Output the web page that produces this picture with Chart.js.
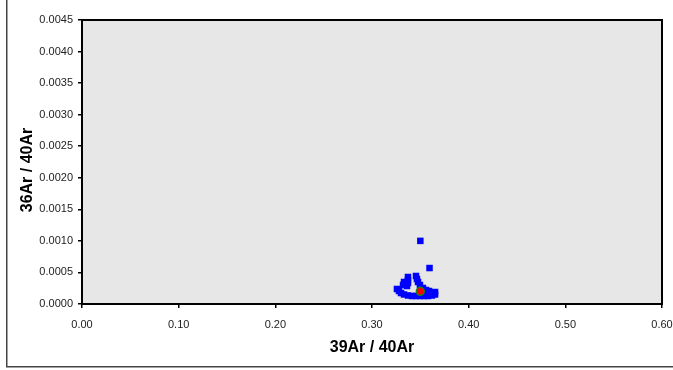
<!DOCTYPE html>
<html>
<head>
<meta charset="utf-8">
<script src="https://cdn.jsdelivr.net/npm/chart.js@4/dist/chart.umd.min.js"></script>
<style>
  html, body { margin: 0; padding: 0; background: #fff; }
  canvas { display: block; }
</style>
</head>
<body>
<canvas id="isoChart" width="673" height="370"></canvas>
<script>
// measured step ratios (39Ar/40Ar, 36Ar/40Ar)
const ratio39 = [
  0.3500, 0.3595,
  0.3258, 0.3279, 0.3300, 0.3331, 0.3372, 0.3414, 0.3455, 0.3496,
  0.3538, 0.3579, 0.3621, 0.3652, 0.3652,
  0.3372, 0.3372, 0.3372, 0.3362, 0.3331, 0.3321,
  0.3455, 0.3465, 0.3476, 0.3496, 0.3527, 0.3559, 0.3590
];
const ratio36 = [
  0.00100, 0.00057,
  0.000238, 0.000206, 0.000174, 0.000151, 0.000135, 0.000127, 0.000127, 0.000127,
  0.000127, 0.000127, 0.000135, 0.000151, 0.000190,
  0.000428, 0.000380, 0.000333, 0.000285, 0.000349, 0.000301,
  0.000444, 0.000396, 0.000349, 0.000301, 0.000254, 0.000222, 0.000206
];
// weighted mean
const mean39 = [0.3500];
const mean36 = [0.000201];

const xTicks = [0, 0.1, 0.2, 0.3, 0.4, 0.5, 0.6];
const yTicks = [0, 0.0005, 0.001, 0.0015, 0.002, 0.0025, 0.003, 0.0035, 0.004, 0.0045];

const FONT = "'Liberation Sans', Arial, sans-serif";

const toPoints = (xs, ys) => xs.map((x, i) => ({ x: x, y: ys[i] }));

// gray plot area, frame, outer border and the vertical axis title
const plotFrame = {
  id: "plotFrame",
  beforeDraw(chart) {
    const { ctx, chartArea: a } = chart;
    ctx.save();
    ctx.fillStyle = "#fff";
    ctx.fillRect(0, 0, chart.width, chart.height);
    ctx.fillStyle = "#e7e7e7";
    ctx.fillRect(a.left, a.top, a.right - a.left, a.bottom - a.top);
    ctx.restore();
  },
  afterDraw(chart) {
    const { ctx, chartArea: a } = chart;
    ctx.save();
    ctx.strokeStyle = "#000";
    ctx.lineWidth = 2;
    ctx.strokeRect(a.left, a.top, a.right - a.left, a.bottom - a.top);

    ctx.strokeStyle = "#444";
    ctx.lineWidth = 1.5;
    ctx.beginPath();
    ctx.moveTo(6.75, 0);
    ctx.lineTo(6.75, 366.75);
    ctx.lineTo(chart.width, 366.75);
    ctx.stroke();

    ctx.translate(28, 170);
    ctx.rotate(-Math.PI / 2);
    ctx.fillStyle = "#000";
    ctx.font = "bold 16px " + FONT;
    ctx.textAlign = "center";
    ctx.textBaseline = "middle";
    ctx.fillText("36Ar / 40Ar", 0, 0);
    ctx.restore();
  }
};

const tickFont = { family: FONT, size: 11 };

new Chart(document.getElementById("isoChart"), {
  type: "scatter",
  data: {
    datasets: [
      {
        label: "mean",
        data: toPoints(mean39, mean36),
        pointStyle: "circle",
        pointRadius: 4,
        backgroundColor: "#ff0000",
        borderColor: "#1e7b1e",
        borderWidth: 1.5
      },
      {
        label: "steps",
        data: toPoints(ratio39, ratio36),
        pointStyle: "rect",
        pointRadius: 4.6,
        backgroundColor: "#0000ff",
        borderColor: "#0000ff",
        borderWidth: 0
      }
    ]
  },
  options: {
    responsive: false,
    animation: false,
    layout: { padding: { top: 20, right: 11, left: 0, bottom: 0 } },
    plugins: {
      legend: { display: false },
      tooltip: { enabled: false }
    },
    scales: {
      x: {
        type: "linear",
        min: xTicks[0],
        max: xTicks[xTicks.length - 1],
        afterBuildTicks: s => { s.ticks = xTicks.map(v => ({ value: v })); },
        afterFit: s => {
          s.height = 66;
          // let the end labels hang past the plot edges
          s.paddingLeft = 0;
          s.paddingRight = 0;
        },
        ticks: {
          font: tickFont,
          color: "#222",
          padding: 10,
          maxRotation: 0,
          callback: v => Number(v).toFixed(2)
        },
        grid: { drawOnChartArea: false, tickLength: 4, color: "#000", lineWidth: 1.5 },
        border: { display: true, color: "#000", width: 2 },
        title: {
          display: true,
          text: "39Ar / 40Ar",
          color: "#000",
          font: { family: FONT, size: 16, weight: "bold" },
          padding: { top: 0, bottom: 13 }
        }
      },
      y: {
        type: "linear",
        min: yTicks[0],
        max: yTicks[yTicks.length - 1],
        afterBuildTicks: s => { s.ticks = yTicks.map(v => ({ value: v })); },
        afterFit: s => {
          s.width = 82;
          s.paddingTop = 0;
          s.paddingBottom = 0;
        },
        ticks: {
          font: tickFont,
          color: "#222",
          padding: 5,
          callback: v => Number(v).toFixed(4)
        },
        grid: { drawOnChartArea: false, tickLength: 4, color: "#000", lineWidth: 1.5 },
        border: { display: true, color: "#000", width: 2 }
      }
    }
  },
  plugins: [plotFrame]
});
</script>
</body>
</html>
